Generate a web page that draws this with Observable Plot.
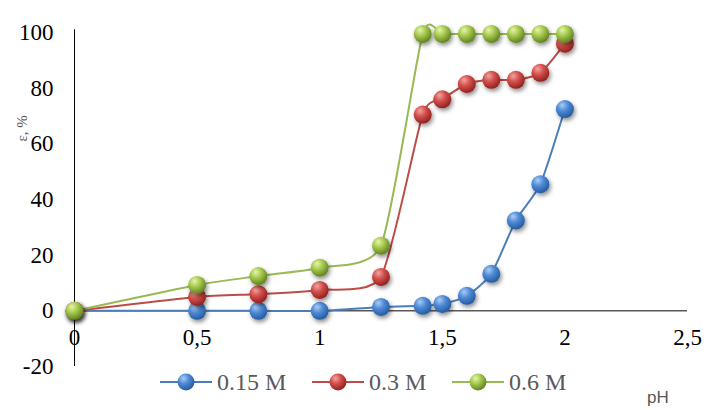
<!DOCTYPE html>
<html><head><meta charset="utf-8">
<script src="https://cdn.jsdelivr.net/npm/d3@7"></script>
<script src="https://cdn.jsdelivr.net/npm/@observablehq/plot@0.6"></script>
<style>
body{margin:0;background:#fff;}
#wrap{position:relative;width:704px;height:410px;overflow:hidden;}
#legend{position:absolute;left:0;top:368px;width:704px;height:42px;font-family:"Liberation Serif","Times New Roman",serif;font-size:24px;color:#595959;}
.item{position:absolute;top:0;height:28px;display:flex;align-items:center;white-space:nowrap;}
.item svg{margin-right:5px;}
#ph{position:absolute;left:647px;top:20px;font-family:"Liberation Sans",Arial,sans-serif;font-size:17px;color:#595959;line-height:19px;}
</style></head><body><div id="wrap"></div>
<script>
const pH = [0, 0.5, 0.75, 1, 1.25, 1.42, 1.5, 1.6, 1.7, 1.8, 1.9, 2];
const series = ["0.15 M", "0.3 M", "0.6 M"];
const eps015 = [0, 0, 0, 0, 1.4, 1.8, 2.5, 5.4, 13.3, 32.5, 45.5, 72.5];
const eps03 = [0, 5, 6, 7.5, 12.2, 70.5, 76, 81.5, 83, 83, 85.5, 96];
const eps06 = [0, 9.3, 12.5, 15.5, 23.4, 99.5, 99.5, 99.5, 99.5, 99.5, 99.5, 99.5];
const xTicks = [0, 0.5, 1, 1.5, 2, 2.5];
const yTicks = [-20, 0, 20, 40, 60, 80, 100];
const colors = ["#4a7ebb", "#be4b48", "#98b954"];
const grads = [["#a9cdf5", "#4f8ad6", "#245a9e"], ["#f4a3a0", "#d2504c", "#8f1f1c"], ["#e6f5a8", "#a6c94f", "#5f7f1e"]];

const values = [eps015, eps03, eps06];
const tables = values.map((v, i) => pH.map((x, j) => ({x, y: v[j], s: series[i]})));
const fmt = d => String(d).replace(".", ",");

const marks = [
  Plot.ruleY([0], {x1: 0, x2: 2.5, stroke: "#595959", strokeWidth: 1.5}),
  Plot.ruleX([0], {y1: -20, y2: 101, stroke: "#000", strokeWidth: 1}),
  Plot.axisY({ticks: yTicks, tickSize: 0, tickPadding: 21, tickFormat: d => String(d), label: null}),
  Plot.text(xTicks, {x: d => d, y: () => 0, text: fmt, dy: 27}),
  Plot.text(["ε, %"], {frameAnchor: "top-left", dx: -58, dy: 109, rotate: -90, fontSize: 15, fill: "#595959"})
];
tables.forEach((t, i) => marks.push(Plot.line(t, {x: "x", y: "y", stroke: colors[i], strokeWidth: 2, curve: d3.curveCardinal.tension(0.4)})));
tables.forEach((t, i) => marks.push(Plot.dot(t, {x: "x", y: "y", r: 9, fill: `url(#g${i})`, stroke: null})));

const plot = Plot.plot({
  width: 704, height: 370,
  marginLeft: 74, marginRight: 17, marginTop: 32, marginBottom: 4,
  x: {domain: [0, 2.5], axis: null},
  y: {domain: [-20, 100]},
  style: {fontFamily: "'Liberation Serif','Times New Roman',serif", fontSize: "23px", color: "#000", background: "white", overflow: "visible"},
  marks
});

const svg = d3.select(plot);
const defs = svg.insert("defs", ":first-child");
grads.forEach((g, i) => {
  const rg = defs.append("radialGradient").attr("id", `g${i}`).attr("cx", "38%").attr("cy", "32%").attr("r", "70%").attr("fx", "35%").attr("fy", "28%");
  rg.append("stop").attr("offset", "0%").attr("stop-color", g[0]);
  rg.append("stop").attr("offset", "45%").attr("stop-color", g[1]);
  rg.append("stop").attr("offset", "100%").attr("stop-color", g[2]);
});
const f = defs.append("filter").attr("id", "sh").attr("x", "-50%").attr("y", "-50%").attr("width", "200%").attr("height", "200%");
f.append("feDropShadow").attr("dx", 1.5).attr("dy", 2.5).attr("stdDeviation", 2).attr("flood-color", "#000").attr("flood-opacity", 0.45);
svg.selectAll('g[aria-label="dot"]').attr("filter", "url(#sh)");

const wrap = document.getElementById("wrap");
wrap.appendChild(plot);

const legend = document.createElement("div");
legend.id = "legend";
const lx = [160, 312, 452];
series.forEach((s, i) => {
  const it = document.createElement("div");
  it.className = "item";
  it.style.left = lx[i] + "px";
  it.innerHTML = `<svg width="52" height="28"><defs><radialGradient id="lg${i}" cx="38%" cy="32%" r="70%" fx="35%" fy="28%"><stop offset="0%" stop-color="${grads[i][0]}"/><stop offset="45%" stop-color="${grads[i][1]}"/><stop offset="100%" stop-color="${grads[i][2]}"/></radialGradient></defs><line x1="0" x2="52" y1="14" y2="14" stroke="${colors[i]}" stroke-width="2"/><circle cx="26" cy="14" r="8.5" fill="url(#lg${i})"/></svg>${s}`;
  legend.appendChild(it);
});
const ph = document.createElement("div");
ph.id = "ph";
ph.textContent = "pH";
legend.appendChild(ph);
wrap.appendChild(legend);
</script></body></html>
